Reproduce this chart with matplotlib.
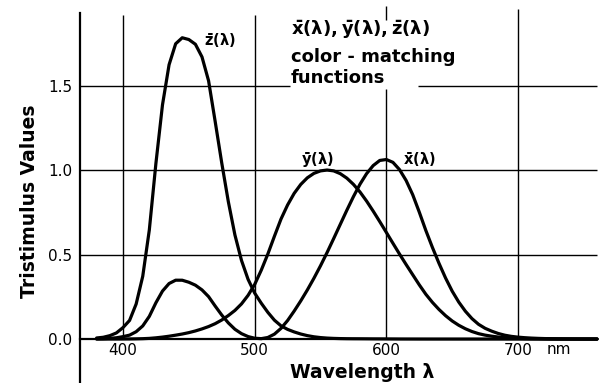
import numpy as np
import matplotlib
matplotlib.use("Agg")
import matplotlib.pyplot as plt

# CIE 1931 2-degree colour-matching functions, 5 nm steps
wavelength = np.arange(380, 765, 5)
x_bar = [0.001368, 0.002236, 0.004243, 0.007650, 0.014310, 0.023190, 0.043510, 0.077630,
         0.134380, 0.214770, 0.283900, 0.328500, 0.348280, 0.348060, 0.336200, 0.318700,
         0.290800, 0.251100, 0.195360, 0.142100, 0.095640, 0.057950, 0.032010, 0.014700,
         0.004900, 0.002400, 0.009300, 0.029100, 0.063270, 0.109600, 0.165500, 0.225750,
         0.290400, 0.359700, 0.433450, 0.512050, 0.594500, 0.678400, 0.762100, 0.842500,
         0.916300, 0.978600, 1.026300, 1.056700, 1.062200, 1.045600, 1.002600, 0.938400,
         0.854450, 0.751400, 0.642400, 0.541900, 0.447900, 0.360800, 0.283500, 0.218700,
         0.164900, 0.121200, 0.087400, 0.063600, 0.046770, 0.032900, 0.022700, 0.015840,
         0.011359, 0.008111, 0.005790, 0.004109, 0.002899, 0.002049, 0.001440, 0.001000,
         0.000690, 0.000476, 0.000332, 0.000235, 0.000166]
y_bar = [0.000039, 0.000064, 0.000120, 0.000217, 0.000396, 0.000640, 0.001210, 0.002180,
         0.004000, 0.007300, 0.011600, 0.016840, 0.023000, 0.029800, 0.038000, 0.048000,
         0.060000, 0.073900, 0.090980, 0.112600, 0.139020, 0.169300, 0.208020, 0.258600,
         0.323000, 0.407300, 0.503000, 0.608200, 0.710000, 0.793200, 0.862000, 0.914850,
         0.954000, 0.980300, 0.994950, 1.000000, 0.995000, 0.978600, 0.952000, 0.915400,
         0.870000, 0.816300, 0.757000, 0.694900, 0.631000, 0.566800, 0.503000, 0.441200,
         0.381000, 0.321000, 0.265000, 0.217000, 0.175000, 0.138200, 0.107000, 0.081600,
         0.061000, 0.044580, 0.032000, 0.023200, 0.017000, 0.011920, 0.008210, 0.005723,
         0.004102, 0.002929, 0.002091, 0.001484, 0.001047, 0.000740, 0.000520, 0.000361,
         0.000249, 0.000172, 0.000120, 0.000085, 0.000060]
z_bar = [0.006450, 0.010550, 0.020050, 0.036210, 0.067850, 0.110200, 0.207400, 0.371300,
         0.645600, 1.039050, 1.385600, 1.622960, 1.747060, 1.782600, 1.772110, 1.744100,
         1.669200, 1.528100, 1.287640, 1.041900, 0.812950, 0.616200, 0.465180, 0.353300,
         0.272000, 0.212300, 0.158200, 0.111700, 0.078250, 0.057250, 0.042160, 0.029840,
         0.020300, 0.013400, 0.008750, 0.005750, 0.003900, 0.002750, 0.002100, 0.001800,
         0.001650, 0.001400, 0.001100, 0.001000, 0.000800, 0.000600, 0.000340, 0.000240,
         0.000190, 0.000100, 0.000050, 0.000030, 0.000020, 0.000010, 0.0, 0.0,
         0.0, 0.0, 0.0, 0.0, 0.0, 0.0, 0.0, 0.0,
         0.0, 0.0, 0.0, 0.0, 0.0, 0.0, 0.0, 0.0,
         0.0, 0.0, 0.0, 0.0, 0.0]

x_ticks = [400, 500, 600, 700]
x_tick_labels = ["400", "500", "600", "700"]
y_ticks = [0.0, 0.5, 1.0, 1.5]
y_tick_labels = ["0.0", "0.5", "1.0", "1.5"]

plt.rcParams["mathtext.fontset"] = "custom"
plt.rcParams["mathtext.rm"] = "DejaVu Sans:bold"
plt.rcParams["mathtext.it"] = "DejaVu Sans:bold"
plt.rcParams["mathtext.bf"] = "DejaVu Sans:bold"
plt.rcParams["font.family"] = ["DejaVu Sans"]

fig = plt.figure(figsize=(6.04, 3.83), dpi=100)
ax = fig.add_axes([0, 0, 1, 1])
ax.set_xlim(306.6, 765.3)
ax.set_ylim(-0.260, 2.006)
ax.patch.set_visible(False)

ink = "black"
grid_lw = 1.0

# axis lines
ax.spines["top"].set_visible(False)
ax.spines["right"].set_visible(False)
ax.spines["left"].set_position(("data", 367))
ax.spines["left"].set_bounds(-0.27, 1.93)
ax.spines["left"].set_linewidth(1.6)
ax.spines["bottom"].set_position(("data", 0))
ax.spines["bottom"].set_bounds(367, 760)
ax.spines["bottom"].set_linewidth(1.6)

ax.set_xticks(x_ticks)
ax.set_xticklabels(x_tick_labels)
ax.set_yticks(y_ticks)
ax.set_yticklabels(y_tick_labels)
ax.tick_params(axis="x", length=0, pad=3, labelsize=11)
ax.tick_params(axis="y", length=0, pad=5, labelsize=11)
ax.text(731, -0.059, "nm", ha="center", va="center", fontsize=11)

# grid lines, broken where the caption sits
ax.vlines([400, 500, 700], 0, [1.92, 1.92, 1.95], color=ink, lw=grid_lw)
ax.vlines(600, 0, 1.48, color=ink, lw=grid_lw)
ax.vlines(600, 1.89, 1.97, color=ink, lw=grid_lw)
ax.hlines([0.5, 1.0], 367, 760, color=ink, lw=grid_lw)
ax.hlines(1.5, 367, 527, color=ink, lw=grid_lw)
ax.hlines(1.5, 624, 760, color=ink, lw=grid_lw)

# colour-matching curves
for series in (x_bar, y_bar, z_bar):
    ax.plot(wavelength, series, color=ink, lw=2.3,
            solid_capstyle="round", solid_joinstyle="round")

# curve labels
ax.text(473.7, 1.763, r"$\bar{z}(\lambda)$", ha="center", va="center", fontsize=10.5)
ax.text(548, 1.06, r"$\bar{y}(\lambda)$", ha="center", va="center", fontsize=10.5)
ax.text(624.8, 1.06, r"$\bar{x}(\lambda)$", ha="center", va="center", fontsize=10.5)

# caption
ax.text(527.6, 1.828, r"$\bar{x}(\lambda),\bar{y}(\lambda),\bar{z}(\lambda)$",
        ha="left", va="center", fontsize=13)
ax.text(527.6, 1.669, "color - matching", ha="left", va="center",
        fontsize=13, fontweight="bold")
ax.text(527.6, 1.544, "functions", ha="left", va="center",
        fontsize=13, fontweight="bold")

# axis titles
ax.text(362 / 604, 1 - 372 / 383, "Wavelength λ", transform=ax.transAxes,
        ha="center", va="center", fontsize=13.5, fontweight="bold")
ax.text(30 / 604, 1 - 201 / 383, "Tristimulus Values", transform=ax.transAxes,
        ha="center", va="center", rotation=90, fontsize=13.5, fontweight="bold")

fig.savefig("out.png", dpi=100, facecolor="white")
